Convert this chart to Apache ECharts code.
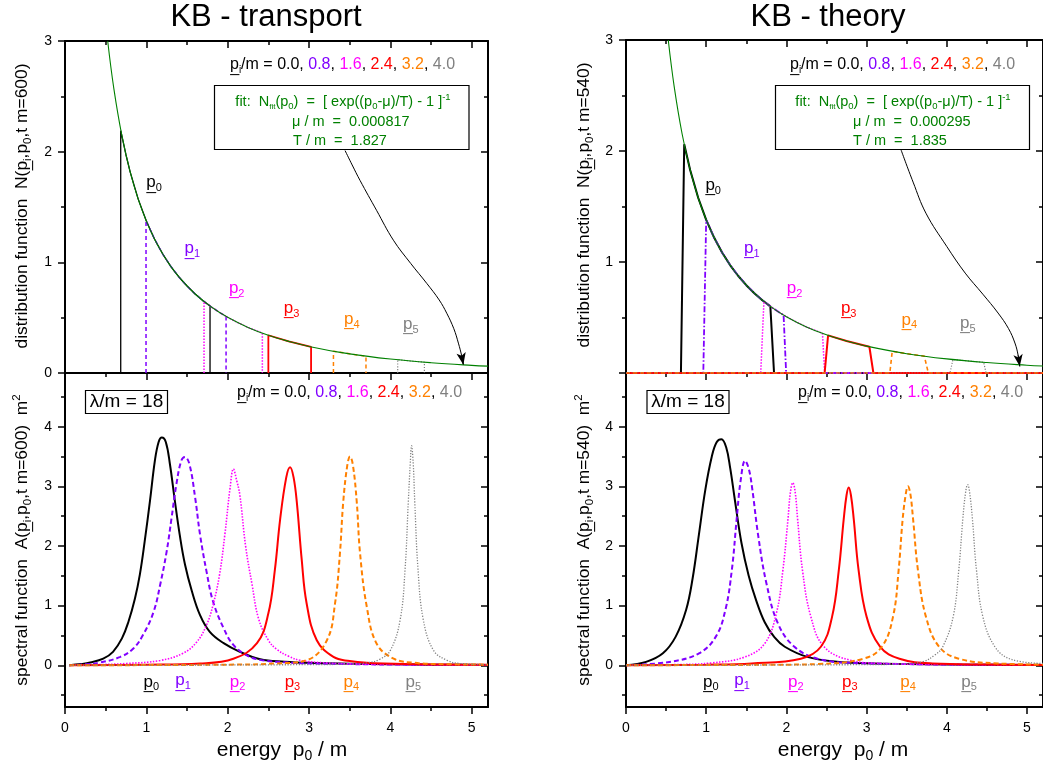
<!DOCTYPE html>
<html><head><meta charset="utf-8">
<script src="https://cdn.jsdelivr.net/npm/echarts@6.0.0/dist/echarts.min.js"></script>
<style>html,body{margin:0;padding:0;background:#fff}#c{width:1043px;height:767px}</style>
</head><body><div id="c"></div>
<script>
// ---------------- DATA ----------------
const energyTicks = [0, 1, 2, 3, 4, 5];
const energyMinor = [0.5, 1.5, 2.5, 3.5, 4.5];
const distTicks = [0, 1, 2, 3];
const distMinor = [0.5, 1.5, 2.5];
const specTicks = [0, 1, 2, 3, 4];
const specMinor = [-0.5, 0.5, 1.5, 2.5, 3.5, 4.5];
const pValues = ['0.0', '0.8', '1.6', '2.4', '3.2', '4.0'];

// fit curves N_fit(p0)
const fitTransport = [[0.525,3.0],[0.6,2.572],[0.7,2.142],[0.8,1.820],[0.9,1.571],[1.0,1.373],[1.1,1.211],[1.2,1.077],[1.3,0.964],[1.4,0.868],[1.6,0.714],[1.8,0.596],[2.0,0.503],[2.25,0.412],[2.5,0.341],[2.75,0.286],[3.0,0.240],[3.5,0.173],[4.0,0.126],[4.5,0.093],[5.0,0.069],[5.2,0.062]];
const fitTheory = [[0.527,3.0],[0.6,2.585],[0.7,2.153],[0.8,1.829],[0.9,1.579],[1.0,1.380],[1.1,1.218],[1.2,1.083],[1.3,0.970],[1.4,0.874],[1.6,0.719],[1.8,0.600],[2.0,0.507],[2.25,0.415],[2.5,0.344],[2.75,0.288],[3.0,0.242],[3.5,0.174],[4.0,0.127],[4.5,0.094],[5.0,0.070],[5.2,0.0625]];

// distribution function, transport
const distT0 = [[0.685,0],[0.685,2.19],[0.75,1.97],[0.8,1.82],[0.9,1.571],[1.0,1.373],[1.1,1.211],[1.2,1.077],[1.3,0.964],[1.4,0.868],[1.5,0.786],[1.6,0.714],[1.7,0.651],[1.783,0.605],[1.783,0]];
const distT1 = [[0.996,0],[0.996,1.378],[1.1,1.211],[1.2,1.077],[1.3,0.964],[1.4,0.868],[1.5,0.786],[1.6,0.714],[1.7,0.651],[1.8,0.596],[1.9,0.547],[1.98,0.511],[1.98,0]];
const distT2 = [[1.709,0],[1.709,0.645],[1.8,0.596],[1.9,0.547],[2.0,0.503],[2.1,0.464],[2.25,0.412],[2.426,0.36],[2.426,0]];
const distT3 = [[2.50,0],[2.50,0.341],[2.75,0.286],[3.025,0.236],[3.025,0]];
const distT4 = [[3.30,0],[3.30,0.197],[3.5,0.173],[3.70,0.152],[3.70,0]];
const distT5 = [[4.09,0],[4.09,0.120],[4.25,0.108],[4.418,0.098],[4.418,0]];
// distribution function, theory
const distK0 = [[0,0],[0.685,0],[0.726,2.06],[0.8,1.829],[0.9,1.579],[1.0,1.38],[1.1,1.218],[1.2,1.083],[1.3,0.97],[1.4,0.874],[1.5,0.791],[1.6,0.719],[1.7,0.656],[1.80,0.600],[1.846,0],[5.2,0]];
const distK1 = [[0,0],[0.964,0],[1.0,1.38],[1.1,1.218],[1.2,1.083],[1.3,0.97],[1.4,0.874],[1.5,0.791],[1.6,0.719],[1.7,0.656],[1.8,0.6],[1.9,0.551],[1.965,0.521],[1.997,0],[5.2,0]];
const distK2 = [[0,0],[1.68,0],[1.72,0.644],[1.8,0.6],[1.9,0.551],[2.0,0.507],[2.1,0.468],[2.25,0.415],[2.45,0.357],[2.477,0],[5.2,0]];
const distK3 = [[0,0],[2.477,0],[2.52,0.339],[2.75,0.288],[3.035,0.2365],[3.085,0],[5.2,0]];
const distK4 = [[0,0],[3.29,0],[3.32,0.196],[3.5,0.174],[3.72,0.152],[3.77,0],[5.2,0]];
const distK5 = [[0,0],[4.04,0],[4.077,0.1216],[4.25,0.11],[4.46,0.0965],[4.49,0],[5.2,0]];

// spectral function, transport
const specT0 = [[0.05,0],[0.2,0.02],[0.31,0.045],[0.47,0.11],[0.59,0.225],[0.70,0.45],[0.78,0.73],[0.86,1.12],[0.92,1.52],[0.98,2.08],[1.045,2.76],[1.105,3.43],[1.15,3.74],[1.19,3.82],[1.24,3.74],[1.29,3.37],[1.35,2.76],[1.41,2.19],[1.475,1.69],[1.56,1.24],[1.66,0.84],[1.78,0.56],[1.95,0.37],[2.15,0.225],[2.4,0.1],[2.7,0.06],[3.0,0.04],[3.5,0.025],[4.0,0.015],[4.5,0.01],[5.2,0.005]];
const specT1 = [[0.05,0],[0.25,0.015],[0.43,0.045],[0.68,0.14],[0.84,0.28],[0.96,0.51],[1.09,0.9],[1.17,1.35],[1.25,1.91],[1.31,2.47],[1.37,3.04],[1.43,3.43],[1.475,3.49],[1.53,3.37],[1.60,2.81],[1.66,2.19],[1.74,1.57],[1.82,1.07],[1.95,0.62],[2.07,0.34],[2.23,0.17],[2.4,0.09],[2.7,0.05],[3.0,0.03],[3.5,0.02],[4.0,0.012],[5.2,0.005]];
const specT2 = [[0.05,0],[0.4,0.01],[0.76,0.03],[1.17,0.08],[1.45,0.2],[1.62,0.39],[1.74,0.675],[1.82,1.01],[1.9,1.52],[1.965,2.19],[2.03,2.98],[2.07,3.29],[2.11,3.1],[2.15,2.85],[2.22,2.0],[2.3,1.35],[2.38,0.78],[2.5,0.42],[2.6,0.27],[2.75,0.15],[2.9,0.08],[3.2,0.04],[3.6,0.02],[4.2,0.01],[5.2,0.005]];
const specT3 = [[0.05,0],[1.0,0.01],[1.66,0.03],[2.07,0.11],[2.36,0.37],[2.5,0.87],[2.58,1.6],[2.645,2.45],[2.72,3.15],[2.767,3.32],[2.81,3.15],[2.85,2.73],[2.91,1.77],[2.97,1.04],[3.095,0.42],[3.3,0.14],[3.5,0.07],[3.71,0.04],[4.2,0.02],[5.2,0.008]];
const specT4 = [[0.05,0],[2.0,0.01],[2.6,0.03],[2.97,0.084],[3.22,0.42],[3.32,1.04],[3.38,1.88],[3.42,2.73],[3.47,3.35],[3.504,3.5],[3.54,3.35],[3.587,2.73],[3.627,1.88],[3.71,0.98],[3.83,0.366],[4.04,0.11],[4.3,0.04],[4.6,0.02],[5.2,0.01]];
const specT5 = [[0.05,0],[3.0,0.01],[3.5,0.02],[3.71,0.04],[3.87,0.1],[4.0,0.25],[4.12,0.76],[4.18,1.6],[4.22,2.73],[4.245,3.4],[4.26,3.68],[4.28,3.4],[4.30,2.73],[4.34,1.6],[4.405,0.76],[4.53,0.25],[4.7,0.08],[4.86,0.03],[5.2,0.01]];
// spectral function, theory
const specK0 = [[0,0],[0.25,0.056],[0.46,0.2],[0.62,0.48],[0.75,0.93],[0.83,1.45],[0.91,2.2],[0.99,2.95],[1.07,3.5],[1.13,3.74],[1.19,3.79],[1.25,3.65],[1.30,3.3],[1.36,2.75],[1.44,2.05],[1.53,1.5],[1.62,1.1],[1.73,0.72],[1.85,0.47],[1.98,0.31],[2.26,0.14],[2.63,0.06],[3.0,0.035],[3.5,0.02],[4.0,0.012],[5.2,0.005]];
const specK1 = [[0,0],[0.54,0.056],[0.91,0.2],[1.12,0.48],[1.24,0.93],[1.32,1.6],[1.38,2.45],[1.43,3.1],[1.485,3.43],[1.53,3.3],[1.57,3.0],[1.65,2.16],[1.75,1.38],[1.895,0.70],[2.10,0.31],[2.39,0.11],[2.8,0.04],[3.5,0.02],[4.2,0.01],[5.2,0.005]];
const specK2 = [[0,0],[0.6,0.01],[1.075,0.04],[1.485,0.14],[1.73,0.365],[1.875,0.87],[1.957,1.6],[2.02,2.45],[2.05,2.9],[2.08,3.06],[2.11,2.9],[2.14,2.45],[2.20,1.6],[2.305,0.815],[2.47,0.31],[2.8,0.084],[3.21,0.03],[4.0,0.012],[5.2,0.005]];
const specK3 = [[0,0],[1.0,0.01],[1.567,0.03],[2.18,0.11],[2.43,0.31],[2.57,0.815],[2.654,1.6],[2.715,2.45],[2.75,2.85],[2.777,2.98],[2.805,2.85],[2.84,2.45],[2.90,1.6],[3.0,0.815],[3.17,0.31],[3.41,0.11],[3.82,0.03],[4.5,0.012],[5.2,0.006]];
const specK4 = [[0,0],[2.0,0.01],[2.39,0.02],[2.96,0.11],[3.19,0.31],[3.33,0.815],[3.40,1.6],[3.45,2.45],[3.49,2.88],[3.515,3.0],[3.545,2.88],[3.58,2.45],[3.64,1.6],[3.74,0.815],[3.905,0.31],[4.15,0.11],[4.64,0.03],[5.2,0.012]];
const specK5 = [[0,0],[3.0,0.01],[3.4,0.02],[3.7,0.06],[3.85,0.17],[3.95,0.31],[4.08,0.815],[4.15,1.6],[4.20,2.45],[4.235,2.9],[4.26,3.03],[4.285,2.9],[4.32,2.45],[4.37,1.6],[4.45,0.815],[4.6,0.31],[4.8,0.1],[5.2,0.03]];

// annotation arrows (fit box -> curve)
const arrowTransport = [[3.443,2.01],[3.53,1.88],[3.627,1.74],[3.83,1.47],[4.037,1.20],[4.25,0.99],[4.447,0.81],[4.60,0.66],[4.693,0.54],[4.78,0.40],[4.836,0.27],[4.875,0.16],[4.897,0.075]];
const arrowTheory = [[3.43,2.01],[3.58,1.72],[3.74,1.44],[4.0,1.14],[4.23,0.90],[4.45,0.71],[4.64,0.54],[4.77,0.40],[4.85,0.27],[4.89,0.16],[4.91,0.06]];

// ---------------- STYLE / LAYOUT ----------------
const FF = '"Liberation Sans", Arial, Helvetica, sans-serif';
const COLS = ['#000000', '#8000ff', '#ff00ff', '#ff0000', '#ff8000', '#808080'];
const GREEN = '#008000';
const U = 'p\u0332';

function mkRich(size, subSize, drop) {
  const r = {};
  COLS.concat([GREEN]).forEach((c, i) => {
    r['n' + i] = {fontSize: size, fontFamily: FF, color: c, fill: c, lineHeight: Math.round(size * 1.2)};
    r['s' + i] = {fontSize: subSize, fontFamily: FF, color: c, fill: c, lineHeight: Math.round(subSize * 1.2), padding: [drop, 0, 0, 0]};
    r['p' + i] = {fontSize: subSize, fontFamily: FF, color: c, fill: c, lineHeight: Math.round(subSize * 1.2), padding: [0, 0, drop, 0]};
  });
  return r;
}
const richLegend = mkRich(16, 10, 10);
const richLabel = mkRich(17, 11, 11);
const richAxis = mkRich(17.4, 11.5, 11);
const richAxisX = mkRich(21, 14, 12);
const richFit = mkRich(14.5, 9.5, 9);
richFit.t = {fontSize: 8, fontFamily: FF, color: GREEN, fill: GREEN, lineHeight: 10, padding: [10, 0, 0, 0]};

const grids = [
  {left: 65, top: 41, width: 423, height: 332},   // transport N
  {left: 65, top: 373, width: 423, height: 334},  // transport A
  {left: 626, top: 40, width: 423, height: 333},  // theory N
  {left: 626, top: 373, width: 423, height: 334}  // theory A
];

const tickLabelStyle = {color: '#000', fontSize: 14, fontFamily: FF};
function axes(dim, g, min, max, majors, minors, labels, margin) {
  const pos = dim === 'x' ? ['bottom', 'top'] : ['left', 'right'];
  const base = {type: 'value', gridIndex: g, min: min, max: max, splitLine: {show: false}, splitArea: {show: false}};
  const line = {show: true, onZero: false, lineStyle: {color: '#000', width: 2}};
  const noLine = {show: false, onZero: false};
  const tl = {color: '#000', width: 1.5};
  return [
    Object.assign({}, base, {position: pos[0], axisLine: line,
      axisTick: {show: true, inside: false, length: 7, customValues: majors, lineStyle: tl},
      axisLabel: labels.length ? Object.assign({show: true, customValues: labels, margin: margin}, tickLabelStyle) : {show: false}}),
    Object.assign({}, base, {position: pos[0], axisLine: noLine,
      axisTick: {show: true, inside: false, length: 4, customValues: minors, lineStyle: tl}, axisLabel: {show: false}}),
    Object.assign({}, base, {position: pos[1], axisLine: line,
      axisTick: {show: true, inside: true, length: 7, customValues: majors, lineStyle: tl}, axisLabel: {show: false}}),
    Object.assign({}, base, {position: pos[1], axisLine: noLine,
      axisTick: {show: true, inside: true, length: 4, customValues: minors, lineStyle: tl}, axisLabel: {show: false}})
  ];
}

const xAxes = [].concat(
  axes('x', 0, 0, 5.2, energyTicks, energyMinor, [], 14),
  axes('x', 1, 0, 5.2, energyTicks, energyMinor, energyTicks, 14),
  axes('x', 2, 0, 5.2, energyTicks, energyMinor, [], 14),
  axes('x', 3, 0, 5.2, energyTicks, energyMinor, energyTicks, 14)
);
const yAxes = [].concat(
  axes('y', 0, 0, 3, distTicks, distMinor, distTicks, 13),
  axes('y', 1, -0.7, 4.9, specTicks, specMinor, specTicks, 13),
  axes('y', 2, 0, 3, distTicks, distMinor, distTicks.filter(v => v > 0), 13),
  axes('y', 3, -0.7, 4.9, specTicks, specMinor, specTicks, 13)
);

function lineSeries(g, data, color, width, type, smooth, z) {
  return {type: 'line', xAxisIndex: g * 4, yAxisIndex: g * 4, data: data, symbol: 'none', showSymbol: false,
    smooth: smooth, silent: true, z: z || 3,
    lineStyle: {color: color, width: width, type: type}};
}
const DASH = [5, 3], DOT = [1.5, 1.5], DOTG = [1.2, 1.6], DASHDOT = [6, 2, 1.5, 2];

const distStylesT = [[1.3, 'solid'], [1.5, [4, 3]], [1.5, DOT], [1.8, 'solid'], [1.5, [4, 3]], [1.2, DOTG]];
const distStylesK = [[2, 'solid'], [1.8, DASHDOT], [1.5, DOT], [2, 'solid'], [1.6, [4, 3]], [1.2, DOTG]];
const specStyles = [[2, 'solid'], [2, DASH], [1.6, DOT], [2, 'solid'], [2, DASH], [1.3, DOTG]];

const distT = [distT0, distT1, distT2, distT3, distT4, distT5];
const distK = [distK0, distK1, distK2, distK3, distK4, distK5];
const specT = [specT0, specT1, specT2, specT3, specT4, specT5];
const specK = [specK0, specK1, specK2, specK3, specK4, specK5];

const series = [];
distT.forEach((d, i) => series.push(lineSeries(0, d, COLS[i], distStylesT[i][0], distStylesT[i][1], false)));
series.push(lineSeries(0, fitTransport, GREEN, 1.1, 'solid', 0.4, 5));
distK.forEach((d, i) => series.push(lineSeries(2, d, COLS[i], distStylesK[i][0], distStylesK[i][1], false)));
series.push(lineSeries(2, fitTheory, GREEN, 1.1, 'solid', 0.4, 5));
specT.forEach((d, i) => series.push(lineSeries(1, d, COLS[i], specStyles[i][0], specStyles[i][1], 0.4)));
specK.forEach((d, i) => series.push(lineSeries(3, d, COLS[i], specStyles[i][0], specStyles[i][1], 0.4)));

function arrowSeries(g, pts) {
  const s = lineSeries(g, pts, '#000', 1, 'solid', 0.4, 6);
  const n = pts.length;
  s.markLine = {silent: true, symbol: ['none', 'arrow'], symbolSize: [7, 12], label: {show: false},
    lineStyle: {color: '#000', width: 1, type: 'solid'}, animation: false,
    data: [[{coord: pts[n - 2]}, {coord: pts[n - 1]}]]};
  return s;
}
series.push(arrowSeries(0, arrowTransport));
series.push(arrowSeries(2, arrowTheory));

// curve labels p_0 ... p_5 (anchor = left / middle of label, in data coords)
const labPosTopT = [[1.0, 1.72], [1.47, 1.125], [2.015, 0.765], [2.69, 0.585], [3.43, 0.485], [4.155, 0.44]];
const labPosTopK = [[0.99, 1.69], [1.472, 1.123], [2.005, 0.762], [2.68, 0.582], [3.435, 0.478], [4.165, 0.447]];
const labPosBot = [[0.965, -0.28], [1.355, -0.26], [2.025, -0.28], [2.70, -0.28], [3.425, -0.28], [4.185, -0.28]];
function labelSeries(g, pts) {
  return {type: 'scatter', xAxisIndex: g * 4, yAxisIndex: g * 4, symbolSize: 0, silent: true, z: 20,
    data: pts.map((p, i) => ({value: p, label: {show: true, position: 'right', distance: 0, color: COLS[i],
      textBorderWidth: 0, opacity: 1,
      formatter: '{n' + i + '|' + U + '}{s' + i + '|' + i + '}', rich: richLabel}}))};
}
series.push(labelSeries(0, labPosTopT));
series.push(labelSeries(2, labPosTopK));
series.push(labelSeries(1, labPosBot));
series.push(labelSeries(3, labPosBot.map(p => [p[0] - 0.005, p[1]])));

// ---------------- GRAPHIC TEXT ----------------
function legendText() {
  let s = '{n0|' + U + '}{s0|i}{n0|/m = }';
  pValues.forEach((v, i) => { s += '{n' + i + '|' + v + '}' + (i < pValues.length - 1 ? '{n0|, }' : ''); });
  return s;
}
function txt(x, y, text, rich, align, rot) {
  return {type: 'text', x: x, y: y, rotation: rot || 0, silent: true, z: 50,
    style: {text: text, rich: rich, align: align || 'left', verticalAlign: 'middle', fontFamily: FF, fill: '#000'}};
}
function rect(x, y, w, h) {
  return {type: 'rect', silent: true, z: 40, shape: {x: x, y: y, width: w, height: h},
    style: {fill: 'rgba(0,0,0,0)', stroke: '#000', lineWidth: 1.2}};
}
const fitLine1 = '{n6|fit:  N}{t|fit}{n6|(p}{s6|0}{n6|)  =  [ exp((p}{s6|0}{n6|-\u03bc)/T) - 1 ]}{p6|-1}';
const yLabTop = (tm) => '{n0|distribution function  N(' + U + '}{s0|i}{n0|,p}{s0|0}{n0|,t m=' + tm + ')}';
const yLabBot = (tm) => '{n0|spectral function  A(' + U + '}{s0|i}{n0|,p}{s0|0}{n0|,t m=' + tm + ')  m}{p0|2}';
const xLab = '{n0|energy  p}{s0|0}{n0| / m}';

const graphic = [
  {type: 'text', x: 266, y: 17, silent: true, style: {text: 'KB - transport', font: '31px ' + FF, fill: '#000', align: 'center', verticalAlign: 'middle'}},
  {type: 'text', x: 828, y: 17, silent: true, style: {text: 'KB - theory', font: '31px ' + FF, fill: '#000', align: 'center', verticalAlign: 'middle'}},
  txt(230, 65, legendText(), richLegend),
  txt(790, 65, legendText(), richLegend),
  txt(237, 393, legendText(), richLegend),
  txt(798, 393, legendText(), richLegend),
  rect(214.5, 85.5, 254.5, 64),
  rect(775.5, 85.5, 254, 64),
  txt(343, 102, fitLine1, richFit, 'center'),
  txt(292, 122, '{n6|\u03bc / m  =  0.000817}', richFit),
  txt(293, 141, '{n6|T / m  =  1.827}', richFit),
  txt(903, 102, fitLine1, richFit, 'center'),
  txt(853, 122, '{n6|\u03bc / m  =  0.000295}', richFit),
  txt(853, 141, '{n6|T / m  =  1.835}', richFit),
  rect(85.5, 390.5, 82, 23),
  rect(647, 390.5, 82, 23),
  {type: 'text', x: 126.5, y: 402, silent: true, z: 50, style: {text: '\u03bb/m = 18', font: '19px ' + FF, fill: '#000', align: 'center', verticalAlign: 'middle'}},
  {type: 'text', x: 688, y: 402, silent: true, z: 50, style: {text: '\u03bb/m = 18', font: '19px ' + FF, fill: '#000', align: 'center', verticalAlign: 'middle'}},
  txt(22.5, 206, yLabTop('600'), richAxis, 'center', Math.PI / 2),
  txt(584.5, 205, yLabTop('540'), richAxis, 'center', Math.PI / 2),
  txt(22.5, 540, yLabBot('600'), richAxis, 'center', Math.PI / 2),
  txt(584.5, 540, yLabBot('540'), richAxis, 'center', Math.PI / 2),
  txt(282, 750, xLab, richAxisX, 'center'),
  txt(843, 750, xLab, richAxisX, 'center')
];

const chart = echarts.init(document.getElementById('c'), null, {renderer: 'canvas'});
chart.setOption({
  animation: false,
  backgroundColor: '#ffffff',
  textStyle: {fontFamily: FF},
  grid: grids,
  xAxis: xAxes,
  yAxis: yAxes,
  series: series,
  graphic: graphic
});
</script></body></html>
